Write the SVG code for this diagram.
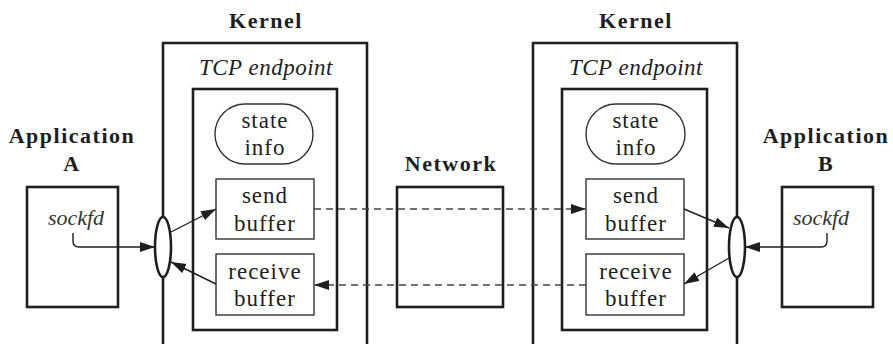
<svg xmlns="http://www.w3.org/2000/svg" width="893" height="344" viewBox="0 0 893 344">
<style>
.bg{fill:#fff}
.thick{fill:none;stroke:#1e1e1e;stroke-width:2.6}
.thin{fill:#fff;stroke:#333;stroke-width:1.4}
.title{font-family:"Liberation Serif",serif;font-weight:bold;font-size:22px;letter-spacing:1.5px;fill:#1e1e1e;text-anchor:middle}
.lbl{font-family:"Liberation Serif",serif;font-size:23px;letter-spacing:1px;fill:#1e1e1e;text-anchor:middle}
.it{font-family:"Liberation Serif",serif;font-style:italic;font-size:23px;letter-spacing:0.5px;fill:#1e1e1e;text-anchor:middle}
.sfd{font-family:"Liberation Serif",serif;font-style:italic;font-size:22px;fill:#333;text-anchor:middle}
.conn{fill:none;stroke:#1e1e1e;stroke-width:1.4}
.dash{fill:none;stroke:#444;stroke-width:1.4;stroke-dasharray:7 5}
.sock{fill:#fff;stroke:#1e1e1e;stroke-width:2.6}
</style>
<defs>
<marker id="ah" markerUnits="userSpaceOnUse" markerWidth="16" markerHeight="11" refX="15" refY="5" orient="auto">
<path d="M0,0 L15,5 L0,10 z" fill="#1e1e1e"/>
</marker>
</defs>
<rect class="bg" x="0" y="0" width="893" height="344"/>

<g id="appA">
<text class="title" x="72" y="143">Application</text>
<text class="title" x="72" y="171">A</text>
<rect class="thick" x="27" y="187" width="91" height="120"/>
<text class="sfd" x="76" y="225">sockfd</text>
</g>

<g id="kernelA">
<text class="title" x="266" y="28">Kernel</text>
<path class="thick" d="M163,344 V43 H367 V344"/>
<text class="it" x="266" y="75">TCP endpoint</text>
<rect class="thick" x="193" y="89" width="144" height="241"/>
</g>
<g id="stateA">
<rect class="thin" x="215" y="104" width="98" height="60" rx="30" ry="30"/>
<text class="lbl" x="265" y="128">state</text>
<text class="lbl" x="265" y="155">info</text>
</g>
<g id="sendA">
<rect class="thin" x="216" y="179" width="98" height="60"/>
<text class="lbl" x="265" y="203">send</text>
<text class="lbl" x="265" y="231">buffer</text>
</g>
<g id="recvA">
<rect class="thin" x="216" y="254" width="98" height="61"/>
<text class="lbl" x="265" y="279">receive</text>
<text class="lbl" x="265" y="306">buffer</text>
</g>

<g id="network">
<text class="title" x="451" y="171">Network</text>
<rect class="thick" x="397" y="187" width="106" height="120"/>
</g>

<g id="kernelB">
<text class="title" x="636" y="28">Kernel</text>
<path class="thick" d="M533,344 V43 H737 V344"/>
<text class="it" x="636" y="75">TCP endpoint</text>
<rect class="thick" x="562" y="89" width="145" height="241"/>
</g>
<g id="stateB">
<rect class="thin" x="586" y="104" width="99" height="60" rx="30" ry="30"/>
<text class="lbl" x="636" y="128">state</text>
<text class="lbl" x="636" y="155">info</text>
</g>
<g id="sendB">
<rect class="thin" x="586" y="179" width="98" height="60"/>
<text class="lbl" x="636" y="203">send</text>
<text class="lbl" x="636" y="231">buffer</text>
</g>
<g id="recvB">
<rect class="thin" x="586" y="254" width="98" height="61"/>
<text class="lbl" x="636" y="279">receive</text>
<text class="lbl" x="636" y="306">buffer</text>
</g>

<g id="appB">
<text class="title" x="826" y="143">Application</text>
<text class="title" x="826" y="171">B</text>
<rect class="thick" x="782" y="187" width="91" height="120"/>
<text class="sfd" x="821" y="225">sockfd</text>
</g>

<g id="sockets">
<ellipse class="sock" cx="163" cy="247" rx="8" ry="30"/>
<ellipse class="sock" cx="737" cy="247" rx="8" ry="30"/>
</g>

<g id="connectors">
<path class="conn" d="M73,233 V241 Q73,247 79,247 H155" marker-end="url(#ah)"/>
<line class="conn" x1="171" y1="232" x2="216" y2="209" marker-end="url(#ah)"/>
<line class="conn" x1="216" y1="284" x2="171" y2="262" marker-end="url(#ah)"/>
<line class="dash" x1="314" y1="209" x2="586" y2="209" marker-end="url(#ah)"/>
<line class="dash" x1="586" y1="285" x2="314" y2="285" marker-end="url(#ah)"/>
<line class="conn" x1="684" y1="209" x2="729" y2="228" marker-end="url(#ah)"/>
<line class="conn" x1="729" y1="258" x2="684" y2="284" marker-end="url(#ah)"/>
<path class="conn" d="M827,233 V241 Q827,247 821,247 H745" marker-end="url(#ah)"/>
</g>
</svg>
